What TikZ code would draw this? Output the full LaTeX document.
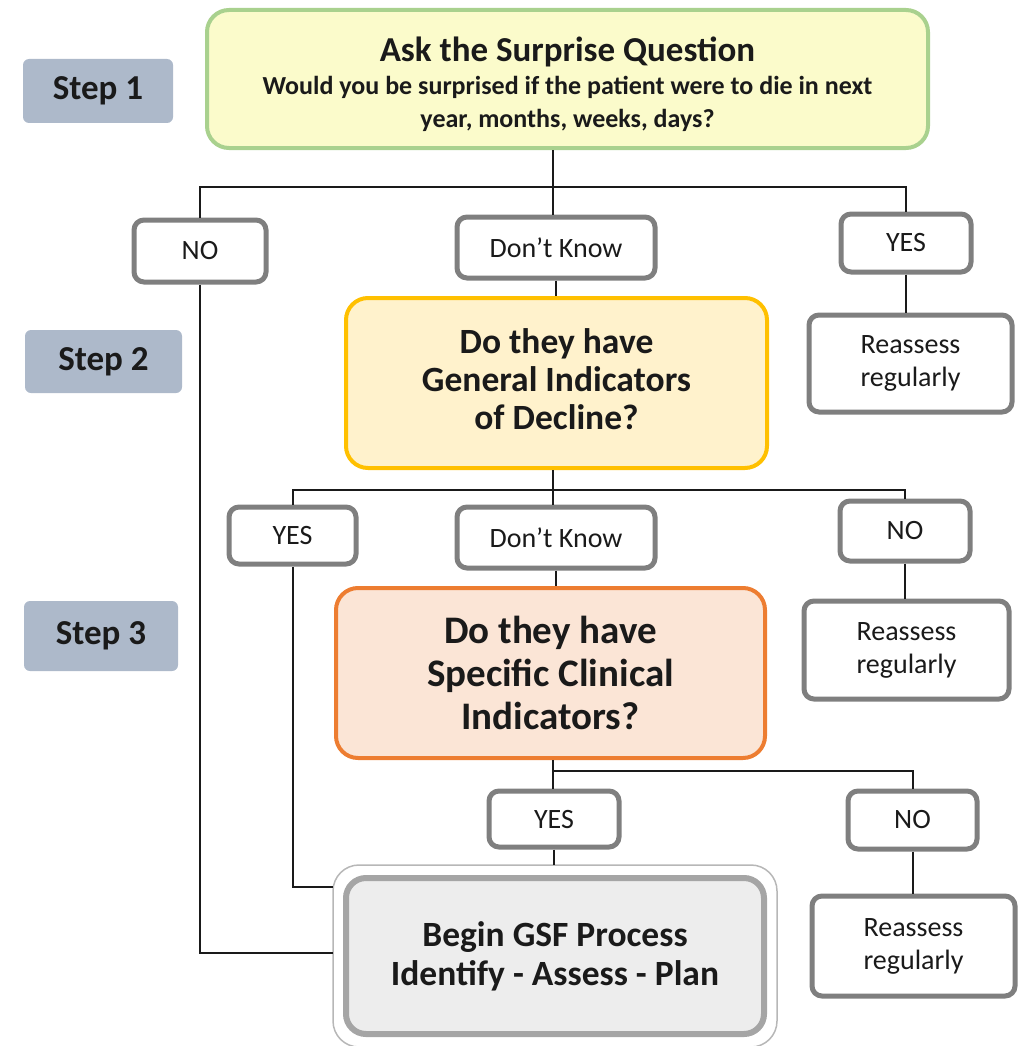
\documentclass[tikz,border=0pt]{standalone}
\usepackage{fontspec}
\setmainfont{Carlito}
\definecolor{boxgray}{HTML}{7F7F7F}
\definecolor{txt}{HTML}{1A1A1A}
\definecolor{stepfill}{HTML}{ADB9CA}
\definecolor{qonefill}{HTML}{FBFBCB}
\definecolor{qoneline}{HTML}{A9D18E}
\definecolor{qtwofill}{HTML}{FFF2CC}
\definecolor{qtwoline}{HTML}{FFC000}
\definecolor{qthreefill}{HTML}{FBE5D6}
\definecolor{qthreeline}{HTML}{ED7D31}
\definecolor{gsffill}{HTML}{EDEDED}
\definecolor{gsfline}{HTML}{A5A5A5}
\tikzset{
  sbox/.style={draw=boxgray, line width=5pt, rounded corners=10pt, fill=white, inner sep=0pt, align=center, text=txt, font=\fontsize{28}{33}\selectfont},
  stepbox/.style={fill=stepfill, rounded corners=6pt, inner sep=0pt, text=txt, font=\bfseries\fontsize{35}{38}\selectfont},
  qbox/.style={line width=4pt, rounded corners=22pt, inner sep=0pt, align=center, text=txt},
  conn/.style={draw=txt, line width=2pt}
}
\begin{document}
\begin{tikzpicture}[x=1pt,y=-1pt]
\useasboundingbox (0,0) rectangle (1028,1046);
% step labels
\node[stepbox, minimum width=150pt, minimum height=64pt] (s1) at (98,91) {Step 1};
\node[stepbox, minimum width=157pt, minimum height=63pt] (s2) at (103.5,361.5) {Step 2};
\node[stepbox, minimum width=154pt, minimum height=70pt] (s3) at (101,636) {Step 3};
% question boxes
\node[qbox, draw=qoneline, fill=qonefill, minimum width=721pt, minimum height=138pt, font=\bfseries\fontsize{26}{33}\selectfont] (q1) at (567.5,79)
  {{\fontsize{35}{40}\selectfont\rule{0pt}{36pt}Ask the Surprise Question}\\
   Would you be surprised if the patient were to die in next\\ year, months, weeks, days?};
\node[qbox, draw=qtwoline, fill=qtwofill, minimum width=421pt, minimum height=170pt, font=\bfseries\fontsize{35.5}{38}\selectfont] (q2) at (556.5,383)
  {Do they have\\General Indicators\\of Decline?\rule[-8pt]{0pt}{8pt}};
\node[qbox, draw=qthreeline, fill=qthreefill, minimum width=429pt, minimum height=170pt, font=\bfseries\fontsize{39}{43}\selectfont] (q3) at (550.5,673)
  {Do they have\\Specific Clinical\\Indicators?};
% row 1
\node[sbox, minimum width=132pt, minimum height=62pt] (no1) at (200,251) {NO};
\node[sbox, minimum width=198pt, minimum height=61pt] (dk1) at (556,247.5) {Don’t Know};
\node[sbox, minimum width=130pt, minimum height=58pt] (yes1) at (906,243) {YES};
\node[sbox, minimum width=203pt, minimum height=97pt] (re1) at (910.5,363.5) {Reassess\\regularly};
% row 2
\node[sbox, minimum width=127pt, minimum height=57pt] (yes2) at (292.5,535.5) {YES};
\node[sbox, minimum width=198pt, minimum height=61pt] (dk2) at (556,537.5) {Don’t Know};
\node[sbox, minimum width=130pt, minimum height=60pt] (no2) at (905,531) {NO};
\node[sbox, minimum width=205pt, minimum height=98pt] (re2) at (906.5,650) {Reassess\\regularly};
% row 3
\node[sbox, minimum width=130pt, minimum height=56pt] (yes3) at (554,819) {YES};
\node[sbox, minimum width=129pt, minimum height=58pt] (no3) at (912.5,820) {NO};
\node[sbox, minimum width=203pt, minimum height=100pt] (re3) at (913.5,946) {Reassess\\regularly};
% final box
\node[qbox, draw=gsfline, fill=gsffill, line width=6pt, rounded corners=20pt, minimum width=418pt, minimum height=156pt, font=\bfseries\fontsize{35.5}{39}\selectfont] (gsf) at (555,956)
  {Begin GSF Process\\Identify - Assess - Plan};
\draw[gsfline!80, line width=1.5pt, rounded corners=26pt] ([shift={(-10pt,10pt)}]gsf.north west) rectangle ([shift={(10pt,-10pt)}]gsf.south east);
% junctions
\coordinate (j1) at (553,187);
\coordinate (j2) at (553,490);
\coordinate (j3) at (553,771);
% connectors
\draw[conn] (j1 |- q1.south) -- (j1);
\draw[conn] (j1) -| (no1.north);
\draw[conn] (j1) -| (yes1.north);
\draw[conn] (j1) -- (j1 |- dk1.north);
\draw[conn] (yes1.south) -- (yes1.south |- re1.north);
\draw[conn] (dk1.south) -- (dk1.south |- q2.north);
\draw[conn] (no1.south) |- ([xshift=-10pt,yshift=3pt]gsf.west);
\draw[conn] (j2 |- q2.south) -- (j2);
\draw[conn] (j2) -| (yes2.north);
\draw[conn] (j2) -| (no2.north);
\draw[conn] (j2) -- (j2 |- dk2.north);
\draw[conn] (no2.south) -- (no2.south |- re2.north);
\draw[conn] (yes2.south) |- ([xshift=-10pt,yshift=69pt]gsf.west);
\draw[conn] (dk2.south) -- (dk2.south |- q3.north);
\draw[conn] (j3 |- q3.south) -- (j3);
\draw[conn] (j3) -| (no3.north);
\draw[conn] (j3) -- (j3 |- yes3.north);
\draw[conn] (no3.south) -- (no3.south |- re3.north);
\draw[conn] (yes3.south) -- ([yshift=10pt]yes3.south |- gsf.north);
\end{tikzpicture}
\end{document}
